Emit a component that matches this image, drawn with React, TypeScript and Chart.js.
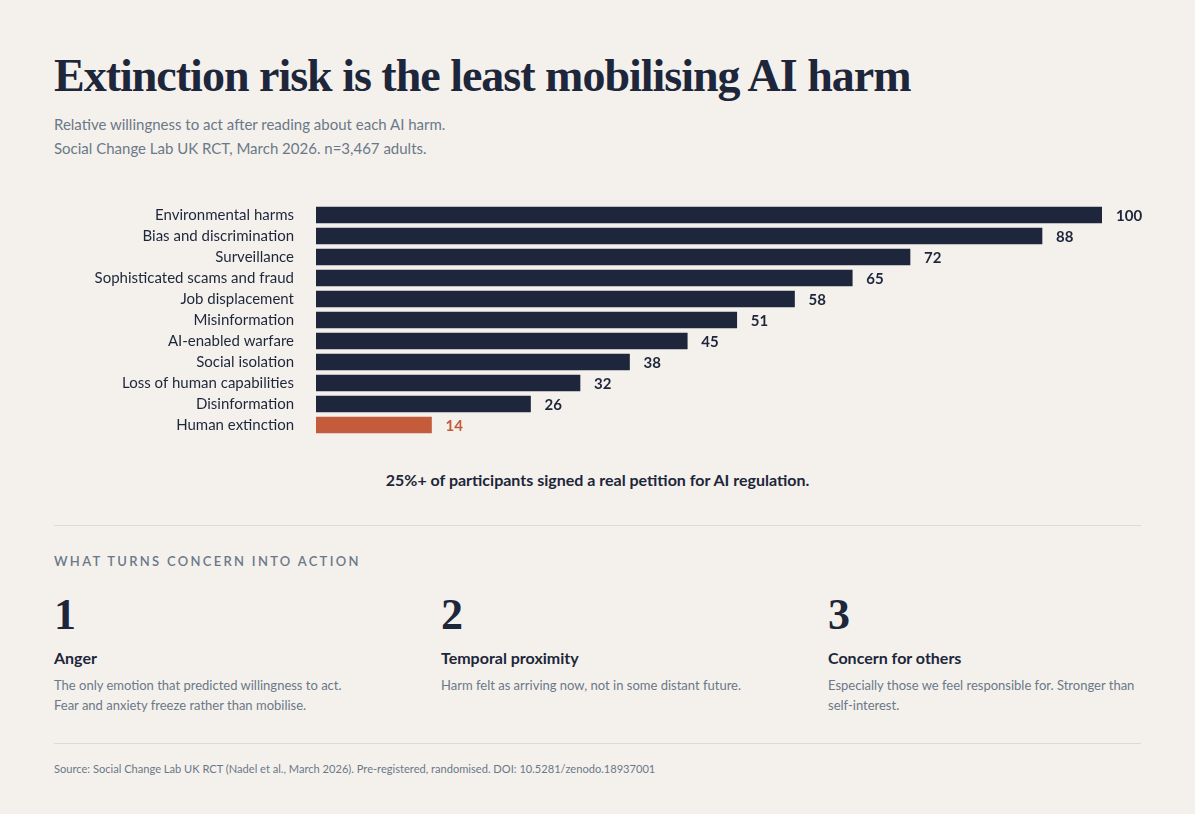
import React, { useEffect, useRef } from "react";
import { Chart, registerables } from "chart.js";

Chart.register(...registerables);

// AI harms, ranked by relative willingness to act (Environmental harms = 100)
const harms = [
  "Environmental harms",
  "Bias and discrimination",
  "Surveillance",
  "Sophisticated scams and fraud",
  "Job displacement",
  "Misinformation",
  "AI-enabled warfare",
  "Social isolation",
  "Loss of human capabilities",
  "Disinformation",
  "Human extinction",
];
const willingness = [100, 88, 72, 65, 58, 51, 45, 38, 32, 26, 14];
const highlighted = "Human extinction";

const findings = [
  {
    rank: "1",
    heading: "Anger",
    lines: ["The only emotion that predicted willingness to act.", "Fear and anxiety freeze rather than mobilise."],
  },
  {
    rank: "2",
    heading: "Temporal proximity",
    lines: ["Harm felt as arriving now, not in some distant future."],
  },
  {
    rank: "3",
    heading: "Concern for others",
    lines: ["Especially those we feel responsible for. Stronger than", "self-interest."],
  },
];

const BG = "#f4f1ec";
const NAVY = "#1d263a";
const ORANGE = "#c45c3c";
const GREY = "#6b7889";
const RULE = "#dedad3";
const SANS = "Lato, 'Noto Sans', sans-serif";
const SERIF = "'Liberation Serif', 'DejaVu Serif', serif";

// the longest bar stops short of the track end, leaving room for its label
const BAR_CAP = -39;

const valueLabels = {
  id: "valueLabels",
  afterDatasetsDraw(chart: any) {
    const { ctx, chartArea } = chart;
    const meta = chart.getDatasetMeta(0);
    const cap = chartArea.right + BAR_CAP;
    ctx.save();
    ctx.font = `700 15px ${SANS}`;
    ctx.textBaseline = "middle";
    ctx.textAlign = "left";
    meta.data.forEach((bar: any, i: number) => {
      ctx.fillStyle = harms[i] === highlighted ? ORANGE : NAVY;
      ctx.fillText(String(willingness[i]), Math.min(bar.x, cap) + 14, bar.y + 1);
    });
    ctx.restore();
  },
};

function HarmsChart() {
  const ref = useRef<HTMLCanvasElement | null>(null);
  useEffect(() => {
    if (!ref.current) return;
    const chart = new Chart(ref.current, {
      type: "bar",
      data: {
        labels: harms,
        datasets: [
          {
            data: willingness,
            backgroundColor: harms.map((h) => (h === highlighted ? ORANGE : NAVY)),
            borderWidth: 0,
            barThickness: 16,
            clip: { left: 0, top: 5, right: BAR_CAP, bottom: 5 } as any,
          },
        ],
      },
      options: {
        indexAxis: "y",
        responsive: true,
        maintainAspectRatio: false,
        animation: false,
        layout: { autoPadding: false, padding: { top: 4.5, bottom: 4.5, left: 0, right: 19 } },
        plugins: { legend: { display: false }, tooltip: { enabled: false } },
        scales: {
          x: { display: false, min: 0, max: 100 },
          y: {
            grid: { display: false, drawTicks: false },
            border: { display: false },
            ticks: { color: NAVY, font: { family: SANS, size: 15 }, padding: 22 },
            afterFit: (scale: any) => {
              scale.width = 262;
              scale.paddingTop = 0;
              scale.paddingBottom = 0;
            },
          },
        },
      },
      plugins: [valueLabels],
    });
    return () => chart.destroy();
  }, []);
  return (
    <div style={{ position: "absolute", left: 54, top: 200, width: 1106, height: 240 }}>
      <canvas ref={ref} />
    </div>
  );
}

export default function App() {
  useEffect(() => {
    document.body.style.margin = "0";
    document.body.style.background = BG;
  }, []);

  const abs = (top: number, extra: React.CSSProperties = {}): React.CSSProperties => ({
    position: "absolute",
    top,
    left: 54,
    margin: 0,
    whiteSpace: "nowrap",
    ...extra,
  });

  return (
    <div style={{ position: "relative", width: 1195, height: 814, background: BG, fontFamily: SANS, color: NAVY }}>
      <div
        style={abs(48, {
          fontFamily: SERIF,
          fontWeight: 700,
          fontSize: 46,
          lineHeight: "56px",
          letterSpacing: -1,
        })}
      >
        Extinction risk is the least mobilising AI harm
      </div>
      <div style={abs(112, { fontSize: 15, lineHeight: "24px", color: GREY })}>
        <div>Relative willingness to act after reading about each AI harm.</div>
        <div>Social Change Lab UK RCT, March 2026. n=3,467 adults.</div>
      </div>

      <HarmsChart />

      <div style={{ position: "absolute", top: 468, left: 0, width: 1195, textAlign: "center", fontSize: 16, lineHeight: "24px", fontWeight: 700 }}>
        25%+ of participants signed a real petition for AI regulation.
      </div>

      <div style={{ position: "absolute", top: 525, left: 54, width: 1087, height: 1, background: RULE }} />

      <div style={abs(551, { fontSize: 13, lineHeight: "20px", letterSpacing: 2.3, fontWeight: 600, color: GREY })}>
        WHAT TURNS CONCERN INTO ACTION
      </div>

      {findings.map((f, i) => (
        <div key={f.rank} style={{ position: "absolute", top: 590, left: 54 + i * 387, width: 330 }}>
          <div style={{ fontFamily: SERIF, fontWeight: 700, fontSize: 44, lineHeight: "50px" }}>{f.rank}</div>
          <div style={{ position: "absolute", top: 57, fontSize: 16, lineHeight: "22px", fontWeight: 700, whiteSpace: "nowrap" }}>
            {f.heading}
          </div>
          <div style={{ position: "absolute", top: 85, fontSize: 13, lineHeight: "20px", color: GREY, whiteSpace: "nowrap" }}>
            {f.lines.map((l) => (
              <div key={l}>{l}</div>
            ))}
          </div>
        </div>
      ))}

      <div style={{ position: "absolute", top: 743, left: 54, width: 1087, height: 1, background: RULE }} />

      <div style={abs(761, { fontSize: 11.1, lineHeight: "16px", color: GREY })}>
        Source: Social Change Lab UK RCT (Nadel et al., March 2026). Pre-registered, randomised. DOI: 10.5281/zenodo.18937001
      </div>
    </div>
  );
}
